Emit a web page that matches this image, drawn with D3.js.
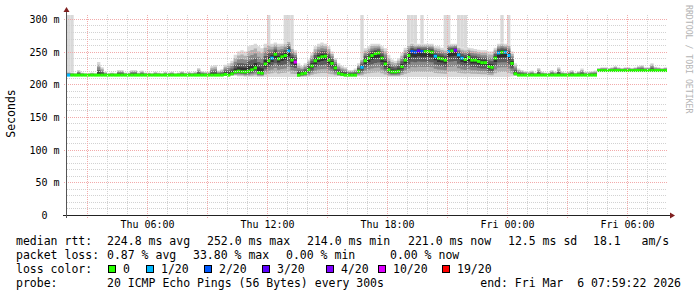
<!DOCTYPE html>
<html>
<head>
<meta charset="utf-8">
<script src="https://cdnjs.cloudflare.com/ajax/libs/d3/7.8.5/d3.min.js"></script>
<style>
  body { margin: 0; background: #fff; }
  svg { display: block; font-family: "DejaVu Sans Mono", monospace; }
  text { white-space: pre; }
</style>
</head>
<body>
<div id="chart"></div>
<script>
// 10 minute samples, Thu Mar 5 02:00 -> Fri Mar 6 08:00, one row per hour (ms)
const median = [
    214, 214, 214, 214, 214, 214,
    214, 214, 214, 214, 214, 214,
    214, 214, 214, 214, 214, 214,
    214, 214, 214, 214, 214, 214,
    214, 214, 214, 214, 214, 214,
    214, 214, 214, 214, 214, 214,
    214, 214, 214, 214, 214, 214,
    214, 214, 214, 214, 214, 215,
    214, 216, 219, 220, 219, 219,
    220, 222, 225, 218, 217, 231,
    236, 240, 246, 239, 242, 244,
    251, 237, 234, 214, 216, 217,
    222, 228, 236, 240, 242, 243,
    237, 232, 225, 217, 215, 214,
    214, 214, 214, 220, 226, 236,
    240, 244, 247, 248, 240, 231,
    222, 219, 219, 220, 227, 237,
    244, 250, 249, 251, 250, 250,
    250, 249, 243, 240, 239, 237,
    250, 251, 252, 245, 240, 238,
    241, 237, 237, 235, 233, 233,
    227, 226, 240, 248, 249, 249,
    244, 232, 216, 214, 214, 214,
    214, 214, 214, 214, 214, 214,
    214, 214, 214, 214, 214, 214,
    214, 214, 214, 214, 214, 214,
    214, 214, 214, 221, 221, 221,
    221, 221, 221, 221, 221, 221,
    221, 221, 221, 221, 221, 221,
    221, 221, 221, 221, 221, 221
];

// lost pings out of 20
const loss = [
    1, 0, 0, 0, 0, 0,
    0, 0, 0, 0, 0, 0,
    0, 0, 0, 0, 0, 0,
    0, 0, 0, 0, 0, 0,
    0, 0, 0, 0, 0, 0,
    0, 0, 0, 0, 0, 0,
    0, 0, 0, 0, 0, 0,
    0, 0, 0, 0, 0, 0,
    0, 0, 0, 0, 0, 0,
    0, 0, 0, 0, 0, 0,
    0, 1, 0, 0, 0, 0,
    1, 0, 10, 0, 0, 0,
    0, 0, 0, 0, 0, 0,
    0, 0, 0, 0, 0, 0,
    0, 0, 0, 0, 1, 0,
    0, 0, 0, 0, 0, 0,
    0, 0, 0, 0, 0, 0,
    0, 2, 2, 3, 2, 0,
    0, 0, 1, 0, 0, 0,
    1, 0, 4, 1, 1, 0,
    0, 0, 0, 0, 0, 0,
    0, 0, 0, 1, 0, 1,
    1, 0, 0, 0, 0, 0,
    0, 0, 0, 0, 0, 0,
    0, 0, 0, 0, 0, 0,
    0, 0, 0, 0, 0, 0,
    0, 0, 0, 0, 0, 0,
    0, 0, 0, 0, 0, 0,
    0, 0, 0, 0, 0, 0,
    0, 0, 0, 0, 0, 0
];

// lowest and highest ping of each sample (smoke), ms
const smokeLo = [
    213, 213, 213, 213, 213, 213,
    213, 213, 213, 213, 213, 213,
    213, 213, 213, 213, 213, 213,
    213, 213, 213, 213, 213, 213,
    213, 213, 213, 213, 213, 213,
    213, 213, 213, 213, 213, 213,
    213, 213, 213, 213, 213, 213,
    213, 213, 213, 213, 213, 213,
    213, 213, 213, 212, 212, 211,
    211, 211, 211, 211, 211, 211,
    211, 211, 211, 211, 211, 211,
    211, 211, 211, 211, 211, 211,
    211, 211, 211, 211, 211, 211,
    211, 211, 211, 212, 212, 212,
    212, 212, 212, 212, 211, 211,
    211, 211, 211, 211, 211, 211,
    211, 211, 211, 211, 211, 211,
    211, 211, 211, 211, 211, 211,
    211, 211, 211, 211, 211, 211,
    211, 211, 211, 211, 211, 211,
    211, 211, 211, 211, 211, 211,
    211, 211, 211, 211, 211, 211,
    211, 212, 213, 213, 213, 213,
    213, 213, 213, 213, 213, 213,
    213, 213, 213, 213, 213, 213,
    213, 213, 213, 213, 213, 213,
    213, 213, 213, 219, 219, 219,
    219, 219, 219, 219, 219, 219,
    219, 219, 219, 219, 219, 219,
    219, 219, 219, 219, 219, 219
];

const smokeHi = [
    219, 218, 217, 222, 218, 217,
    217, 218, 217, 234, 226, 219,
    217, 218, 217, 222, 222, 218,
    218, 222, 222, 218, 221, 218,
    218, 217, 219, 218, 217, 219,
    218, 219, 217, 218, 220, 218,
    219, 218, 219, 225, 220, 219,
    219, 228, 229, 221, 223, 230,
    232, 236, 245, 250, 252, 250,
    258, 260, 262, 258, 255, 262,
    265, 262, 264, 262, 262, 265,
    268, 258, 252, 232, 228, 232,
    238, 248, 258, 262, 264, 262,
    258, 250, 240, 232, 228, 226,
    222, 222, 224, 232, 240, 255,
    258, 262, 262, 262, 258, 255,
    245, 238, 236, 240, 248, 256,
    262, 264, 262, 262, 262, 262,
    262, 262, 258, 258, 256, 255,
    262, 262, 262, 258, 256, 255,
    256, 255, 254, 253, 252, 252,
    250, 250, 256, 262, 264, 262,
    262, 250, 232, 224, 222, 220,
    219, 221, 218, 225, 219, 218,
    218, 222, 219, 226, 219, 218,
    219, 222, 218, 220, 224, 219,
    219, 220, 221, 225, 226, 226,
    225, 226, 228, 226, 225, 226,
    226, 225, 226, 228, 229, 226,
    226, 232, 227, 226, 225, 226
];

// single very slow pings: [sample index, ms]
const spikes = [
    [0, 310], [1, 310], [60, 310], [65, 310], [66, 310], [67, 310],
    [88, 310], [102, 310], [103, 310], [104, 310], [106, 310], [113, 310],
    [114, 310], [117, 310], [118, 310], [119, 310], [130, 310], [132, 310]
];

const lossLevels = [0, 1, 2, 3, 4, 10, 19];
const lossLabels = ["0", "1/20", "2/20", "3/20", "4/20", "10/20", "19/20"];
const lossColors = ["#26ff00", "#00b8ff", "#0059ff", "#5e00ff", "#7e00ff", "#dd00ff", "#ff0000"];

const yTicks = [0, 50, 100, 150, 200, 250, 300];

const rttStats = ["224.8 ms avg", "252.0 ms max", "214.0 ms min", "221.0 ms now", "12.5 ms sd", "18.1   am/s"];
const lossStats = ["0.87 % avg", "33.80 % max", "0.00 % min", "0.00 % now"];
const probeText = "20 ICMP Echo Pings (56 Bytes) every 300s";
const endText = "end: Fri Mar  6 07:59:22 2026";

const w = 697;
const h = 297;
const plotLeft = 67, plotRight = 667, plotTop = 15, plotBottom = 215;

const t0 = Date.UTC(2026, 2, 5, 2, 0);
const stepMs = 10 * 60 * 1000;

const samples = median.map((m, i) => ({
    t: new Date(t0 + i * stepMs),
    t1: new Date(t0 + (i + 1) * stepMs),
    med: m,
    lo: smokeLo[i],
    hi: smokeHi[i],
    loss: loss[i]
}));
const lastSample = samples[samples.length - 1];
const pts = samples.concat([Object.assign({}, lastSample, { t: lastSample.t1 })]);

const xScale = d3.scaleUtc()
    .domain([new Date(t0), new Date(t0 + median.length * stepMs)])
    .range([plotLeft, plotRight]);
const yScale = d3.scaleLinear().domain([0, 306]).range([plotBottom, plotTop]);

const svg = d3.select("#chart").append("svg")
    .attr("width", w)
    .attr("height", h);

svg.append("rect").attr("width", w).attr("height", h).attr("fill", "#fff");

svg.append("clipPath").attr("id", "plotclip")
    .append("rect")
    .attr("x", plotLeft).attr("y", plotTop)
    .attr("width", plotRight - plotLeft).attr("height", plotBottom - plotTop);

const plot = svg.append("g").attr("clip-path", "url(#plotclip)");

// smoke: light outer bands to dark core around the median
const bandFrac = [1, 0.8, 0.6, 0.4, 0.2];
const bandGrey = ["#d9d9d9", "#b0b0b0", "#888888", "#5c5c5c", "#303030"];

plot.selectAll("rect.spike")
    .data(spikes)
    .enter()
    .append("rect")
    .attr("class", "spike")
    .attr("x", (d) => xScale(samples[d[0]].t))
    .attr("width", (d) => xScale(samples[d[0]].t1) - xScale(samples[d[0]].t))
    .attr("y", (d) => yScale(Math.min(d[1], 306)))
    .attr("height", (d) => yScale(samples[d[0]].hi) - yScale(Math.min(d[1], 306)))
    .attr("fill", bandGrey[0]);

bandFrac.forEach((f, k) => {
    const area = d3.area()
        .curve(d3.curveStepAfter)
        .x((d) => xScale(d.t))
        .y0((d) => yScale(d.med - f * (d.med - d.lo)))
        .y1((d) => yScale(d.med + f * (d.hi - d.med)));
    plot.append("path").datum(pts).attr("d", area).attr("fill", bandGrey[k]);
});

// grid (rrdtool paints it over the graph)
const grid = svg.append("g").attr("shape-rendering", "crispEdges");
const minorY = d3.range(10, 301, 10).filter((v) => v % 50 !== 0);
grid.selectAll("line.hminor").data(minorY).enter().append("line")
    .attr("x1", plotLeft).attr("x2", plotRight)
    .attr("y1", (d) => Math.round(yScale(d)) + 0.5)
    .attr("y2", (d) => Math.round(yScale(d)) + 0.5)
    .attr("stroke", "#d2d2d2").attr("stroke-dasharray", "1,1");

const hours = d3.utcHour.range(new Date(t0 + 3600e3), xScale.domain()[1]);
grid.selectAll("line.vminor").data(hours.filter((d) => d.getUTCHours() % 3 !== 0)).enter().append("line")
    .attr("y1", plotTop).attr("y2", plotBottom)
    .attr("x1", (d) => Math.round(xScale(d)) + 0.5)
    .attr("x2", (d) => Math.round(xScale(d)) + 0.5)
    .attr("stroke", "#d2d2d2").attr("stroke-dasharray", "1,1");

grid.selectAll("line.hmajor").data(yTicks.slice(1)).enter().append("line")
    .attr("x1", plotLeft - 3).attr("x2", plotRight)
    .attr("y1", (d) => Math.round(yScale(d)) + 0.5)
    .attr("y2", (d) => Math.round(yScale(d)) + 0.5)
    .attr("stroke", "#f2aaaa").attr("stroke-dasharray", "1,1");

grid.selectAll("line.vmajor").data(hours.filter((d) => d.getUTCHours() % 3 === 0)).enter().append("line")
    .attr("y1", plotTop).attr("y2", plotBottom + 3)
    .attr("x1", (d) => Math.round(xScale(d)) + 0.5)
    .attr("x2", (d) => Math.round(xScale(d)) + 0.5)
    .attr("stroke", "#f2aaaa").attr("stroke-dasharray", "1,1");

// median drawn as short bands coloured by loss
function lossColor(n) {
    let c = lossColors[0];
    lossLevels.forEach((lv, i) => {
        if (n >= lv) c = lossColors[i];
    });
    return c;
}

plot.selectAll("rect.median")
    .data(samples)
    .enter()
    .append("rect")
    .attr("class", "median")
    .attr("x", (d) => xScale(d.t))
    .attr("width", (d) => xScale(d.t1) - xScale(d.t))
    .attr("y", (d) => yScale(d.med) - 1.5)
    .attr("height", 3)
    .attr("fill", (d) => lossColor(d.loss));

// axes
const xAxis = d3.axisBottom(xScale)
    .tickValues(d3.utcHour.every(6).range(xScale.domain()[0], xScale.domain()[1]))
    .tickFormat(d3.utcFormat("%a %H:%M"))
    .tickSize(0)
    .tickPadding(6);

svg.append("g")
    .attr("transform", `translate(0,${plotBottom})`)
    .call(xAxis)
    .call((g) => g.select(".domain").remove())
    .selectAll("text")
    .attr("font-family", "DejaVu Sans Mono")
    .attr("font-size", 10)
    .attr("fill", "#000");

const yAxis = d3.axisLeft(yScale)
    .tickValues(yTicks)
    .tickFormat((d) => (d === 0 ? "0" : d + " m"))
    .tickSize(0)
    .tickPadding(7.5);

svg.append("g")
    .attr("transform", `translate(${plotLeft},0)`)
    .call(yAxis)
    .call((g) => g.select(".domain").remove())
    .selectAll("text")
    .attr("font-family", "DejaVu Sans Mono")
    .attr("font-size", 10)
    .attr("fill", "#000")
    .attr("dy", "0.36em")
    .attr("dx", (d) => (d === 0 ? -12 : 0));

svg.append("line")
    .attr("x1", plotLeft - 4).attr("x2", plotRight + 3)
    .attr("y1", plotBottom + 0.5).attr("y2", plotBottom + 0.5)
    .attr("stroke", "#222").attr("shape-rendering", "crispEdges");
svg.append("line")
    .attr("x1", plotLeft - 0.5).attr("x2", plotLeft - 0.5)
    .attr("y1", plotBottom + 3).attr("y2", plotTop - 3)
    .attr("stroke", "#555").attr("shape-rendering", "crispEdges");

svg.append("path")
    .attr("d", `M${plotRight + 3},${plotBottom - 2.5}L${plotRight + 8},${plotBottom + 0.5}L${plotRight + 3},${plotBottom + 3.5}Z`)
    .attr("fill", "#7f1f1f");
svg.append("path")
    .attr("d", `M${plotLeft - 3.5},${plotTop - 3}L${plotLeft - 0.5},${plotTop - 8}L${plotLeft + 2.5},${plotTop - 3}Z`)
    .attr("fill", "#7f1f1f");

svg.append("text")
    .attr("transform", `translate(15,113.5) rotate(-90)`)
    .attr("text-anchor", "middle")
    .attr("font-size", 11.5)
    .text("Seconds");

svg.append("text")
    .attr("transform", `translate(686,5) rotate(90)`)
    .attr("font-size", 8.2)
    .attr("fill", "#b4b4b4")
    .text("RRDTOOL / TOBI OETIKER");

// legend
const legend = svg.append("g").attr("font-size", 11.5).attr("fill", "#000");
const rttX = [107, 207, 307, 408, 508, 593];
const lossX = [107, 193, 286, 390];
const boxX = [108, 146, 204, 262, 326, 378, 442];

legend.append("text").attr("x", 16).attr("y", 245).text("median rtt:");
legend.selectAll("text.rtt").data(rttStats).enter().append("text")
    .attr("x", (d, i) => rttX[i]).attr("y", 245).text((d) => d);

legend.append("text").attr("x", 16).attr("y", 259).text("packet loss:");
legend.selectAll("text.loss").data(lossStats).enter().append("text")
    .attr("x", (d, i) => lossX[i]).attr("y", 259).text((d) => d);

legend.append("text").attr("x", 16).attr("y", 273).text("loss color:");
legend.selectAll("rect.box").data(lossColors).enter().append("rect")
    .attr("x", (d, i) => boxX[i] + 0.5).attr("y", 265.5)
    .attr("width", 7).attr("height", 7)
    .attr("fill", (d) => d)
    .attr("stroke", "#000");
legend.selectAll("text.boxlabel").data(lossLabels).enter().append("text")
    .attr("x", (d, i) => boxX[i] + 15).attr("y", 273).text((d) => d);

legend.append("text").attr("x", 16).attr("y", 287).text("probe:");
legend.append("text").attr("x", 107).attr("y", 287).text(probeText);
legend.append("text").attr("x", 681).attr("y", 287).attr("text-anchor", "end").text(endText);
</script>
</body>
</html>
